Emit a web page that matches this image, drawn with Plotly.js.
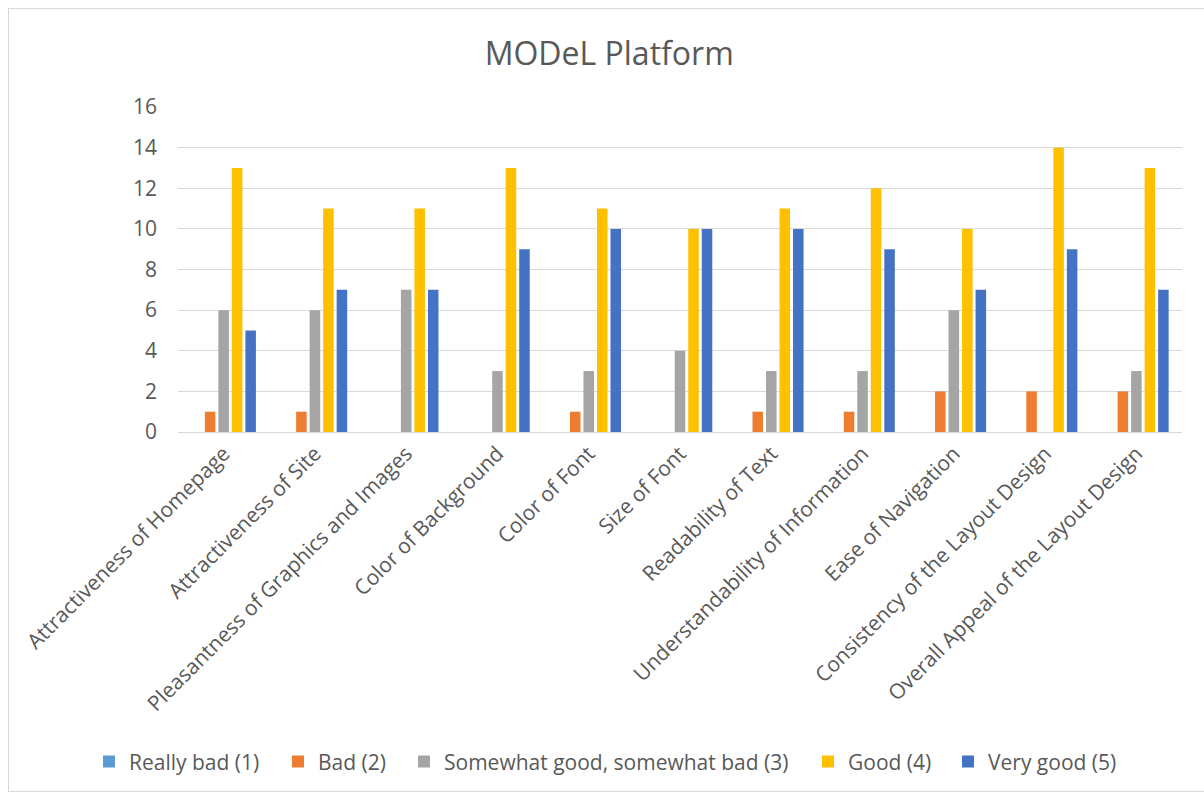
<!DOCTYPE html>
<html>
<head>
<meta charset="utf-8">
<script src="https://cdn.plot.ly/plotly-3.0.1.min.js"></script>
<style>
  html, body { margin: 0; padding: 0; background: #fff; }
  #wrap { position: relative; width: 1204px; height: 796px; overflow: hidden; }
  #chart { position: absolute; left: 0; top: 0; width: 1204px; height: 796px; }
  #frame { position: absolute; left: 8px; top: 8px; width: 1200px; height: 782px; border: 1px solid #d9d9d9; pointer-events: none; }
</style>
</head>
<body>
<div id="wrap">
<div id="chart"></div>
<div id="frame"></div>
</div>
<script>
const categories = [
  "Attractiveness of Homepage",
  "Attractiveness of Site",
  "Pleasantness of Graphics and Images",
  "Color of Background",
  "Color of Font",
  "Size of Font",
  "Readability of Text",
  "Understandability of Information",
  "Ease of Navigation",
  "Consistency of the Layout Design",
  "Overall Appeal of the Layout Design"
];
const seriesNames = ["Really bad (1)", "Bad (2)", "Somewhat good, somewhat bad (3)", "Good (4)", "Very good (5)"];
const reallyBad = [0, 0, 0, 0, 0, 0, 0, 0, 0, 0, 0];
const bad = [1, 1, 0, 0, 1, 0, 1, 1, 2, 2, 2];
const somewhat = [6, 6, 7, 3, 3, 4, 3, 3, 6, 0, 3];
const good = [13, 11, 11, 13, 11, 10, 11, 12, 10, 14, 13];
const veryGood = [5, 7, 7, 9, 10, 10, 10, 9, 7, 9, 7];
const colors = ["#5b9bd5", "#ed7d31", "#a5a5a5", "#ffc000", "#4472c4"];
const values = [reallyBad, bad, somewhat, good, veryGood];

// legend text start positions (px from left) for each series
const legendTextX = [129, 318, 444, 848, 988];

const font = "'Open Sans', 'Noto Sans', 'DejaVu Sans', sans-serif";
const W = 1204, H = 796;

const traces = values.map((v, i) => ({
  type: "bar",
  name: seriesNames[i],
  x: categories,
  y: v,
  legend: i === 0 ? "legend" : "legend" + (i + 1),
  marker: { color: colors[i], line: { width: 0 } }
}));

const layout = {
  width: W,
  height: H,
  margin: { l: 178, r: 22, t: 107, b: 364, autoexpand: false },
  paper_bgcolor: "rgba(0,0,0,0)",
  plot_bgcolor: "rgba(0,0,0,0)",
  font: { family: font, color: "#595959", size: 21 },
  title: { text: "MODeL Platform", x: 0.506, xref: "container", xanchor: "center", y: 0.933, yref: "container", yanchor: "middle", font: { size: 32, color: "#595959", family: font } },
  barmode: "group",
  bargap: 0.26,
  bargroupgap: 0.22,
  xaxis: {
    type: "category",
    tickangle: -45,
    tickfont: { size: 21, color: "#595959" },
    showline: true,
    linecolor: "#d9d9d9",
    linewidth: 1,
    ticks: "",
    showgrid: false
  },
  yaxis: {
    range: [0, 16],
    dtick: 2,
    tickfont: { size: 21, color: "#595959" },
    showgrid: true,
    gridcolor: "#d9d9d9",
    gridwidth: 1,
    zeroline: true,
    zerolinecolor: "#d9d9d9",
    showline: false,
    ticklabelstandoff: 20
  },
  showlegend: true
};

legendTextX.forEach((tx, i) => {
  const key = i === 0 ? "legend" : "legend" + (i + 1);
  layout[key] = {
    orientation: "h",
    xref: "container",
    yref: "container",
    x: (tx - 40) / W,
    xanchor: "left",
    y: 0.043,
    yanchor: "middle",
    bgcolor: "rgba(0,0,0,0)",
    borderwidth: 0,
    font: { size: 21, color: "#595959", family: font },
    itemclick: false
  };
});

Plotly.newPlot("chart", traces, layout, { displayModeBar: false, staticPlot: true });
</script>
</body>
</html>
